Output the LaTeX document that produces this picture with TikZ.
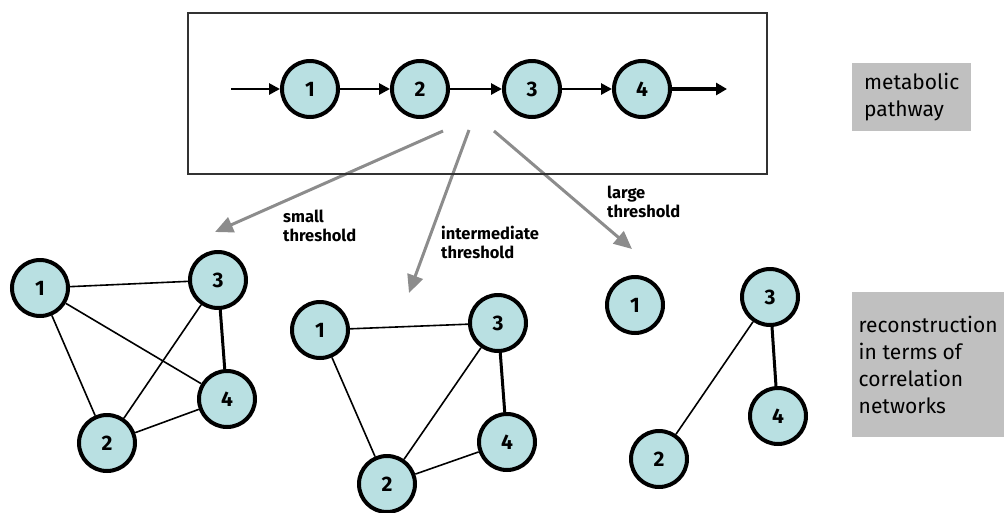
\documentclass[tikz,border=0pt]{standalone}
\usepackage{fontspec}
\setmainfont{Fira Sans}
\usetikzlibrary{arrows.meta}
\definecolor{nodefill}{RGB}{185,224,226}
\definecolor{arrowgray}{RGB}{140,140,140}
\definecolor{boxgray}{RGB}{192,192,192}
\definecolor{frameline}{RGB}{50,50,50}
\begin{document}
\begin{tikzpicture}[x=1pt,y=-1pt,
  met/.style={circle,draw=black,line width=4pt,fill=nodefill,minimum size=56pt,inner sep=0pt,
    font=\fontsize{21}{21}\selectfont\bfseries},
  flow/.style={-{Triangle[length=11pt,width=11pt]},line width=2.8pt},
  flowend/.style={-{Triangle[length=11pt,width=12pt]},line width=3.5pt},
  link/.style={line width=1.6pt},
  strong/.style={line width=3pt},
  thr/.style={-{Triangle[length=18pt,width=16pt]},line width=3pt,draw=arrowgray,color=arrowgray},
  lbl/.style={anchor=west,align=left,inner sep=0pt,font=\fontsize{16.5}{18.5}\selectfont\bfseries},
  graybox/.style={fill=boxgray,anchor=north west,inner sep=0pt,align=left,
    font=\fontsize{21}{27}\selectfont}]
\useasboundingbox (0,0) rectangle (1004,512);

% threshold arrows (behind the frame)
\coordinate (s1) at (443,131);
\coordinate (s2) at (469,130);
\coordinate (s3) at (494,131);
\coordinate (e1) at (215,232);
\coordinate (e2) at (409,293);
\coordinate (e3) at (632,249);
\draw[thr] (s1) -- (e1);
\draw[thr] (s2) -- (e2);
\draw[thr] (s3) -- (e3);

% frame
\node[draw=frameline,line width=1.5pt,minimum width=579pt,minimum height=161pt,anchor=north west,inner sep=0pt] (frame) at (187,12) {};

% pathway
\coordinate (pin) at (231,89);
\coordinate (pout) at (727,89);
\node[met] (t1) at (310,89) {1};
\node[met] (t2) at (420,89) {2};
\node[met] (t3) at (532,89) {3};
\node[met] (t4) at (642,89) {4};
\draw[flow] (pin) -- (t1);
\draw[flow] (t1) -- (t2);
\draw[flow] (t2) -- (t3);
\draw[flow] (t3) -- (t4);
\draw[flowend] (t4) -- (pout);

% labels
\node[lbl] (l1) at (283,226) {small\\threshold};
\node[lbl] (l2) at (441,242.5) {intermediate\\threshold};
\node[lbl] (l3) at (607,202) {large\\threshold};

% small threshold network
\node[met] (a1) at (40,288) {1};
\node[met] (a3) at (218,280) {3};
\node[met] (a4) at (227,399) {4};
\node[met] (a2) at (107,443) {2};
\draw[link] (a1) -- (a3);
\draw[link] (a1) -- (a2);
\draw[link] (a1) -- (a4);
\draw[link] (a3) -- (a2);
\draw[link] (a2) -- (a4);
\draw[strong] (a3) -- (a4);

% intermediate threshold network
\node[met] (b1) at (320,330) {1};
\node[met] (b3) at (498,323) {3};
\node[met] (b4) at (507,442) {4};
\node[met] (b2) at (387,484) {2};
\draw[link] (b1) -- (b3);
\draw[link] (b1) -- (b2);
\draw[link] (b3) -- (b2);
\draw[link] (b2) -- (b4);
\draw[strong] (b3) -- (b4);

% large threshold network
\node[met] (c1) at (635,305) {1};
\node[met] (c3) at (770,297) {3};
\node[met] (c4) at (778,416) {4};
\node[met] (c2) at (659,459) {2};
\draw[link] (c3) -- (c2);
\draw[strong] (c3) -- (c4);

% side boxes
\node[graybox,minimum width=119pt,minimum height=68pt] (mp) at (852,63) {metabolic\\pathway};
\node[graybox,minimum width=152pt,minimum height=145pt] (rc) at (852,292) {reconstruction\\in terms of\\correlation\\networks};
\end{tikzpicture}
\end{document}
